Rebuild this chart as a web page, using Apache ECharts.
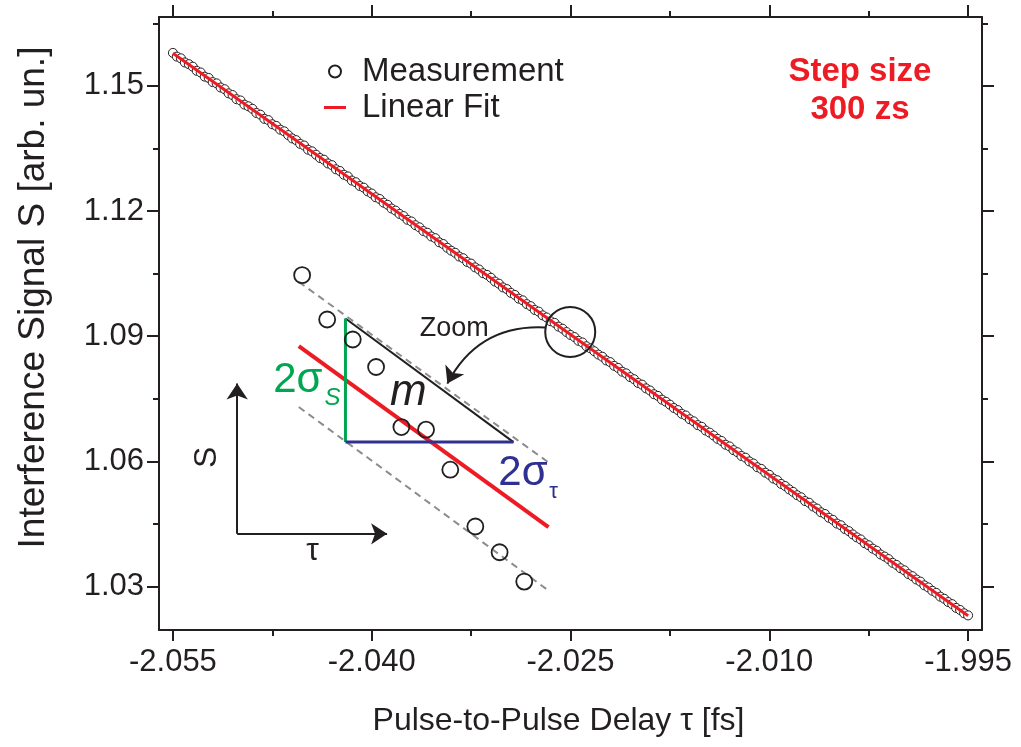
<!DOCTYPE html>
<html><head><meta charset="utf-8">
<script src="https://cdn.jsdelivr.net/npm/echarts@6/dist/echarts.min.js"></script>
<style>html,body{margin:0;padding:0;background:#fff}#c{width:1021px;height:747px}</style>
</head><body><div id="c"></div>
<script>
// ---- measured data (pulse-to-pulse delay in fs, signal in arb. un.) ----
const delayFs = [
-2.0550,-2.0547,-2.0544,-2.0541,-2.0538,-2.0535,-2.0532,-2.0529,-2.0526,-2.0523,
-2.0520,-2.0517,-2.0514,-2.0511,-2.0508,-2.0505,-2.0502,-2.0499,-2.0496,-2.0493,
-2.0490,-2.0487,-2.0484,-2.0481,-2.0478,-2.0475,-2.0472,-2.0469,-2.0466,-2.0463,
-2.0460,-2.0457,-2.0454,-2.0451,-2.0448,-2.0445,-2.0442,-2.0439,-2.0436,-2.0433,
-2.0430,-2.0427,-2.0424,-2.0421,-2.0418,-2.0415,-2.0412,-2.0409,-2.0406,-2.0403,
-2.0400,-2.0397,-2.0394,-2.0391,-2.0388,-2.0385,-2.0382,-2.0379,-2.0376,-2.0373,
-2.0370,-2.0367,-2.0364,-2.0361,-2.0358,-2.0355,-2.0352,-2.0349,-2.0346,-2.0343,
-2.0340,-2.0337,-2.0334,-2.0331,-2.0328,-2.0325,-2.0322,-2.0319,-2.0316,-2.0313,
-2.0310,-2.0307,-2.0304,-2.0301,-2.0298,-2.0295,-2.0292,-2.0289,-2.0286,-2.0283,
-2.0280,-2.0277,-2.0274,-2.0271,-2.0268,-2.0265,-2.0262,-2.0259,-2.0256,-2.0253,
-2.0250,-2.0247,-2.0244,-2.0241,-2.0238,-2.0235,-2.0232,-2.0229,-2.0226,-2.0223,
-2.0220,-2.0217,-2.0214,-2.0211,-2.0208,-2.0205,-2.0202,-2.0199,-2.0196,-2.0193,
-2.0190,-2.0187,-2.0184,-2.0181,-2.0178,-2.0175,-2.0172,-2.0169,-2.0166,-2.0163,
-2.0160,-2.0157,-2.0154,-2.0151,-2.0148,-2.0145,-2.0142,-2.0139,-2.0136,-2.0133,
-2.0130,-2.0127,-2.0124,-2.0121,-2.0118,-2.0115,-2.0112,-2.0109,-2.0106,-2.0103,
-2.0100,-2.0097,-2.0094,-2.0091,-2.0088,-2.0085,-2.0082,-2.0079,-2.0076,-2.0073,
-2.0070,-2.0067,-2.0064,-2.0061,-2.0058,-2.0055,-2.0052,-2.0049,-2.0046,-2.0043,
-2.0040,-2.0037,-2.0034,-2.0031,-2.0028,-2.0025,-2.0022,-2.0019,-2.0016,-2.0013,
-2.0010,-2.0007,-2.0004,-2.0001,-1.9998,-1.9995,-1.9992,-1.9989,-1.9986,-1.9983,
-1.9980,-1.9977,-1.9974,-1.9971,-1.9968,-1.9965,-1.9962,-1.9959,-1.9956,-1.9953,
-1.9950
];
const signal = [
1.1579,1.1570,1.1566,1.1556,1.1552,1.1546,1.1536,1.1532,1.1522,1.1519,
1.1509,1.1506,1.1496,1.1492,1.1482,1.1478,1.1468,1.1465,1.1455,1.1451,
1.1445,1.1435,1.1431,1.1421,1.1418,1.1408,1.1404,1.1395,1.1391,1.1382,
1.1374,1.1370,1.1361,1.1357,1.1347,1.1343,1.1335,1.1327,1.1323,1.1314,
1.1310,1.1300,1.1296,1.1287,1.1283,1.1273,1.1269,1.1260,1.1256,1.1247,
1.1242,1.1233,1.1229,1.1220,1.1215,1.1206,1.1201,1.1193,1.1188,1.1179,
1.1175,1.1166,1.1161,1.1152,1.1148,1.1139,1.1135,1.1125,1.1121,1.1112,
1.1105,1.1100,1.1091,1.1087,1.1078,1.1074,1.1065,1.1060,1.1051,1.1047,
1.1040,1.1031,1.1026,1.1017,1.1013,1.1004,1.0999,1.0990,1.0986,1.0977,
1.0972,1.0963,1.0959,1.0950,1.0945,1.0936,1.0932,1.0923,1.0918,1.0910,
1.0903,1.0898,1.0889,1.0885,1.0876,1.0871,1.0864,1.0856,1.0851,1.0842,
1.0838,1.0829,1.0824,1.0815,1.0811,1.0802,1.0797,1.0788,1.0784,1.0775,
1.0770,1.0761,1.0757,1.0748,1.0743,1.0736,1.0728,1.0723,1.0714,1.0710,
1.0701,1.0696,1.0687,1.0683,1.0674,1.0669,1.0662,1.0654,1.0649,1.0640,
1.0636,1.0627,1.0622,1.0613,1.0609,1.0600,1.0595,1.0586,1.0582,1.0573,
1.0568,1.0559,1.0555,1.0546,1.0541,1.0533,1.0527,1.0519,1.0514,1.0505,
1.0501,1.0492,1.0487,1.0478,1.0474,1.0465,1.0460,1.0451,1.0447,1.0438,
1.0433,1.0425,1.0418,1.0413,1.0404,1.0399,1.0391,1.0386,1.0377,1.0372,
1.0366,1.0357,1.0352,1.0344,1.0339,1.0330,1.0325,1.0317,1.0312,1.0303,
1.0298,1.0290,1.0285,1.0276,1.0271,1.0263,1.0258,1.0249,1.0244,1.0236,
1.0231
];
// linear fit end points
const fitX = [-2.055, -1.995];
const fitY = [1.1578, 1.0230];
// tick values
const xMajorTicks = [-2.055, -2.040, -2.025, -2.010, -1.995];
const xMinorTicks = [-2.0475, -2.0325, -2.0175, -2.0025];
const yMajorTicks = [1.03, 1.06, 1.09, 1.12, 1.15];
const yMinorTicks = [1.045, 1.075, 1.105, 1.135, 1.165];
// schematic inset (drawn in the same data coordinates)
const insetPtX = [-2.04525,-2.04336,-2.04143,-2.03967,-2.03776,-2.03590,-2.03407,-2.03218,-2.03035,-2.02849];
const insetPtY = [1.10464,1.09401,1.08921,1.08263,1.06823,1.06761,1.05801,1.04440,1.03823,1.03120];
const bandUpperX = [-2.04550, -2.02653], bandUpperY = [1.10303, 1.05945];
const bandLowerX = [-2.04550, -2.02666], bandLowerY = [1.07303, 1.02904];
const insetFitX = [-2.04550, -2.02666], insetFitY = [1.08760, 1.04423];
const triX = [-2.04198, -2.04198, -2.02930], triY = [1.09425, 1.06463, 1.06463];

const FONT = '"Liberation Sans", Arial, Helvetica, sans-serif';
const INK = '#231f20', RED = '#ed1c24', GREEN = '#00a651', BLUE = '#2e3192', GRAY = '#8c8c8c';
const XMIN = -2.05605, XMAX = -1.99395, YMIN = 1.0196, YMAX = 1.1665;

const pairs = (xa, ya) => xa.map((x, i) => [x, ya[i]]);

function xAx(gridIndex, position, ticks, len, main) {
  return {
    type: 'value', gridIndex, position, min: XMIN, max: XMAX,
    axisLine: { show: main, onZero: false, lineStyle: { color: INK, width: 2 } },
    axisTick: { show: true, customValues: ticks, length: len, inside: false, lineStyle: { color: INK, width: 2 } },
    axisLabel: (main && position === 'bottom') ? { show: true, customValues: ticks, formatter: v => v.toFixed(3), fontSize: 31, color: INK, fontFamily: FONT, margin: 17 } : { show: false },
    splitLine: { show: false },
    name: (main && position === 'bottom') ? 'Pulse-to-Pulse Delay τ [fs]' : '',
    nameLocation: 'middle', nameGap: 75,
    nameTextStyle: { fontSize: 32, color: INK, fontFamily: FONT, padding: [0, 24, 0, 0] }
  };
}
function yAx(gridIndex, position, ticks, len, main) {
  return {
    type: 'value', gridIndex, position, min: YMIN, max: YMAX,
    axisLine: { show: main, onZero: false, lineStyle: { color: INK, width: 2 } },
    axisTick: { show: true, customValues: ticks, length: len, inside: false, lineStyle: { color: INK, width: 2 } },
    axisLabel: (main && position === 'left') ? { show: true, customValues: ticks, formatter: v => v.toFixed(2), fontSize: 31, color: INK, fontFamily: FONT, margin: 15 } : { show: false },
    splitLine: { show: false },
    name: (main && position === 'left') ? 'Interference Signal S [arb. un.]' : '',
    nameLocation: 'middle', nameGap: 107,
    nameTextStyle: { fontSize: 37, color: INK, fontFamily: FONT, padding: [0, 0, 0, 52] }
  };
}

function note(x, y, text, pos, label) {
  return { value: [x, y], label: Object.assign({ show: true, position: pos, distance: 0, formatter: text, color: INK, fontFamily: FONT, textBorderWidth: 0, textShadowBlur: 0 }, label) };
}

const gridBox = { left: 159, right: 39, top: 17, bottom: 117 };
const arrowEnd = { symbol: 'arrow', symbolSize: 16 };

const option = {
  animation: false,
  backgroundColor: '#fff',
  grid: [Object.assign({}, gridBox), Object.assign({}, gridBox)],
  xAxis: [
    xAx(0, 'bottom', xMajorTicks, 11, true),
    xAx(0, 'top', xMajorTicks, 12, true),
    xAx(1, 'bottom', xMinorTicks, 6, false),
    xAx(1, 'top', xMinorTicks, 6, false)
  ],
  yAxis: [
    yAx(0, 'left', yMajorTicks, 12, true),
    yAx(0, 'right', yMajorTicks, 12, true),
    yAx(1, 'left', yMinorTicks, 6, false),
    yAx(1, 'right', yMinorTicks, 6, false)
  ],
  legend: {
    orient: 'vertical', left: 319, top: 50, itemWidth: 22, itemHeight: 12, itemGap: 3,
    textStyle: { fontSize: 33, color: INK, fontFamily: FONT, padding: [0, 0, 0, 11] },
    data: [
      { name: 'Measurement', icon: 'circle' },
      { name: 'Linear Fit', icon: 'path://M0,0 L22,0 L22,3 L0,3 Z', itemStyle: { color: RED } }
    ]
  },
  series: [
    {
      name: 'Measurement', type: 'scatter', xAxisIndex: 0, yAxisIndex: 0, z: 2,
      symbol: 'circle', symbolSize: 9,
      itemStyle: { color: '#fff', borderColor: INK, borderWidth: 1, opacity: 1 },
      data: pairs(delayFs, signal)
    },
    {
      name: 'Linear Fit', type: 'line', xAxisIndex: 0, yAxisIndex: 0, z: 3,
      symbol: 'none', showSymbol: false,
      lineStyle: { color: RED, width: 3 }, itemStyle: { color: RED },
      data: pairs(fitX, fitY)
    },
    // inset: dashed band
    { type: 'line', z: 4, symbol: 'none', lineStyle: { color: GRAY, width: 2, type: [7, 5] }, data: pairs(bandUpperX, bandUpperY) },
    { type: 'line', z: 4, symbol: 'none', lineStyle: { color: GRAY, width: 2, type: [7, 5] }, data: pairs(bandLowerX, bandLowerY) },
    // inset fit line
    { type: 'line', z: 5, symbol: 'none', lineStyle: { color: RED, width: 4 }, data: pairs(insetFitX, insetFitY) },
    // slope triangle
    { type: 'line', z: 6, symbol: 'none', lineStyle: { color: INK, width: 2 }, data: [[triX[0], triY[0]], [triX[2], triY[2]]] },
    { type: 'line', z: 6, symbol: 'none', lineStyle: { color: GREEN, width: 3 }, data: [[triX[0], triY[0]], [triX[1], triY[1]]] },
    { type: 'line', z: 6, symbol: 'none', lineStyle: { color: BLUE, width: 3 }, data: [[triX[1], triY[1]], [triX[2], triY[2]]] },
    // inset points + S/tau axes arrows
    {
      type: 'scatter', z: 7, symbol: 'circle', symbolSize: 16,
      itemStyle: { color: 'rgba(255,255,255,0)', borderColor: INK, borderWidth: 1.8, opacity: 1 },
      data: pairs(insetPtX, insetPtY),
      markLine: {
        silent: true, animation: false, label: { show: false }, emphasis: { disabled: true },
        symbol: ['none', 'arrow'], symbolSize: 16,
        lineStyle: { color: INK, width: 2, type: 'solid' },
        data: [
          [{ coord: [-2.05015, 1.04265], symbol: 'none' }, Object.assign({ coord: [-2.05015, 1.07865] }, arrowEnd)],
          [{ coord: [-2.05015, 1.04265], symbol: 'none' }, Object.assign({ coord: [-2.03884, 1.04265] }, arrowEnd)]
        ]
      }
    },
    // zoom circle
    {
      type: 'scatter', z: 7, symbol: 'circle', symbolSize: 50,
      itemStyle: { color: 'rgba(255,255,255,0)', borderColor: INK, borderWidth: 2, opacity: 1 },
      data: [[-2.02502, 1.09103]]
    },
    // curved "zoom" arrow
    {
      type: 'lines', coordinateSystem: 'cartesian2d', xAxisIndex: 0, yAxisIndex: 0, z: 7, silent: true,
      symbol: ['none', 'arrow'], symbolSize: 16,
      lineStyle: { color: INK, width: 2, curveness: -0.32, opacity: 1 },
      data: [{ coords: [[-2.02691, 1.09209], [-2.03429, 1.07865]] }]
    },
    // text annotations
    {
      type: 'scatter', z: 8, symbolSize: 0, silent: true,
      itemStyle: { color: 'rgba(0,0,0,0)', opacity: 1 },
      data: [
        note(-2.00316, 1.14880, 'Step size\n300 zs', 'inside', { color: RED, fontSize: 33, fontWeight: 'bold', lineHeight: 38, align: 'center' }),
        note(-2.03377, 1.09192, 'Zoom', 'inside', { fontSize: 27 }),
        note(-2.03723, 1.07644, 'm', 'inside', { fontSize: 44, fontStyle: 'italic' }),
        note(-2.04372, 1.07944, '2σ', 'left', { fontSize: 42, color: GREEN }),
        note(-2.04357, 1.07512, 'S', 'right', { fontSize: 24, color: GREEN, fontStyle: 'italic' }),
        note(-2.03045, 1.05724, '2σ', 'right', { fontSize: 42, color: BLUE }),
        note(-2.02660, 1.05280, 'τ', 'right', { fontSize: 22, color: BLUE }),
        note(-2.05238, 1.06096, 'S', 'inside', { fontSize: 32, rotate: 90 }),
        note(-2.04447, 1.03840, 'τ', 'inside', { fontSize: 32 })
      ]
    }
  ]
};

const chart = echarts.init(document.getElementById('c'), null, { renderer: 'canvas' });
chart.setOption(option);
</script></body></html>
